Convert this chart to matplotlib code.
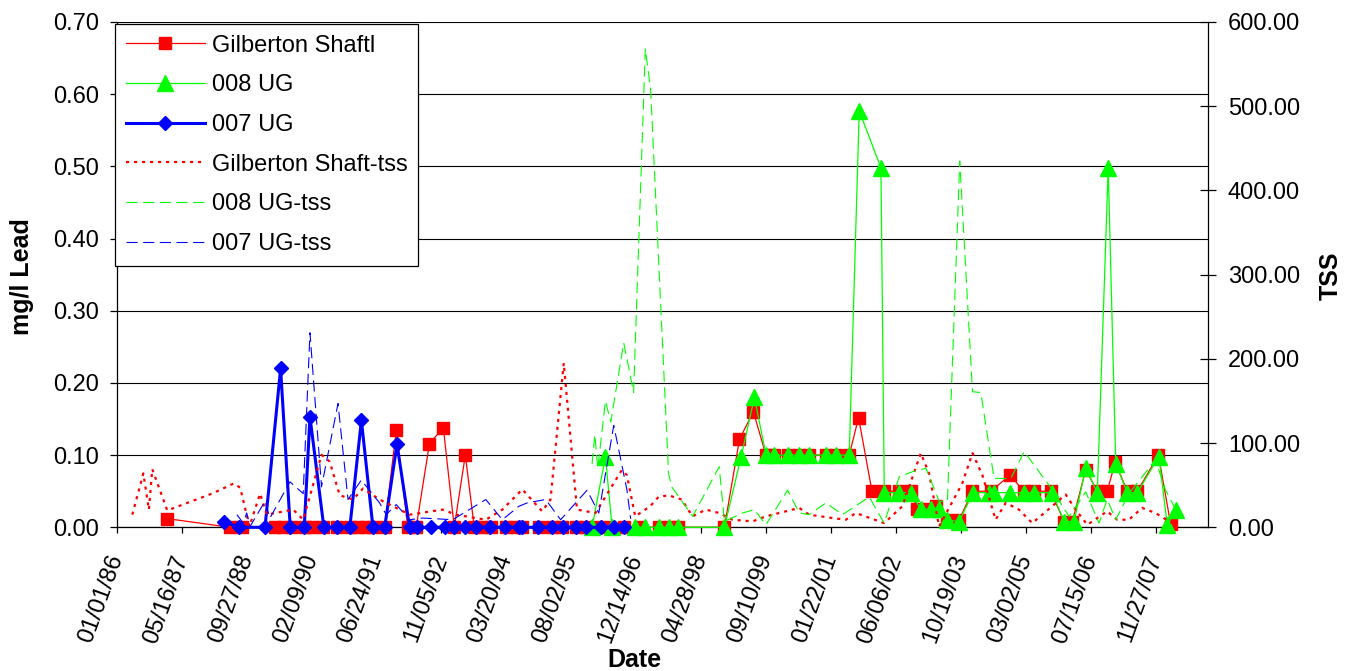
import matplotlib
matplotlib.use('Agg')
import matplotlib.pyplot as plt
import pandas as pd
from matplotlib.ticker import FuncFormatter

plt.rcParams['font.family'] = ['Liberation Sans', 'DejaVu Sans']

# ---------------- data ----------------
xtick_labels = ['01/01/86', '05/16/87', '09/27/88', '02/09/90', '06/24/91', '11/05/92',
                '03/20/94', '08/02/95', '12/14/96', '04/28/98', '09/10/99', '01/22/01',
                '06/06/02', '10/19/03', '03/02/05', '07/15/06', '11/27/07']
pb_ticks = [0.0, 0.1, 0.2, 0.3, 0.4, 0.5, 0.6, 0.7]
tss_ticks = [0, 100, 200, 300, 400, 500, 600]

gilb_dates = ['1987-01-25', '1988-05-24', '1988-08-22', '1989-05-04', '1989-07-07', '1989-09-10',
              '1989-12-21', '1990-02-10', '1990-05-10', '1990-08-21', '1990-12-01', '1991-02-02',
              '1991-04-08', '1991-05-28', '1991-08-26', '1991-11-24', '1992-02-20', '1992-04-25',
              '1992-08-05', '1992-11-20', '1993-02-12', '1993-05-08', '1993-07-16', '1993-09-18',
              '1993-11-21', '1994-03-16', '1994-06-01', '1994-07-22', '1994-11-27', '1995-03-09',
              '1995-05-24', '1995-09-04', '1995-11-20', '1996-02-05', '1996-05-03', '1996-09-09',
              '1997-01-15', '1997-06-04', '1997-09-02', '1997-11-04', '1998-10-24', '1999-02-17',
              '1999-06-04', '1999-09-09', '1999-11-12', '2000-02-23', '2000-05-23', '2000-08-07',
              '2000-12-14', '2001-02-28', '2001-06-11', '2001-08-22', '2001-12-03', '2002-03-08',
              '2002-07-01', '2002-09-29', '2002-11-18', '2003-01-23', '2003-04-09', '2003-07-07',
              '2003-10-05', '2004-01-16', '2004-06-05', '2004-10-30', '2005-02-17', '2005-05-04',
              '2005-09-09', '2005-12-21', '2006-02-23', '2006-06-06', '2006-09-03', '2006-11-18',
              '2007-01-19', '2007-04-22', '2007-07-08', '2007-12-18', '2008-03-20']
gilb_pb = [0.012, 0.0, 0.0, 0.0, 0.0, 0.0,
           0.0, 0.0, 0.0, 0.0, 0.0, 0.0,
           0.0, 0.0, 0.0, 0.135, 0.0, 0.0,
           0.116, 0.138, 0.0, 0.100, 0.0, 0.0,
           0.0, 0.0, 0.0, 0.0, 0.0, 0.0,
           0.0, 0.0, 0.0, 0.0, 0.0, 0.0,
           0.0, 0.0, 0.0, 0.0, 0.0, 0.122,
           0.160, 0.10, 0.10, 0.10, 0.10, 0.10,
           0.10, 0.10, 0.10, 0.152, 0.05, 0.05,
           0.05, 0.05, 0.026, 0.025, 0.03, 0.01,
           0.01, 0.05, 0.05, 0.072, 0.05, 0.05,
           0.05, 0.008, 0.008, 0.08, 0.05, 0.05,
           0.09, 0.05, 0.05, 0.10, 0.005]

ug008_dates = ['1996-01-09', '1996-04-21', '1996-06-11', '1996-12-07', '1997-02-22', '1997-06-04',
               '1997-08-20', '1997-11-04', '1998-10-24', '1999-03-02', '1999-06-12', '1999-09-09',
               '1999-11-12', '2000-02-23', '2000-05-23', '2000-08-07', '2000-12-14', '2001-02-28',
               '2001-06-11', '2001-08-27', '2002-02-10', '2002-03-08', '2002-07-01', '2002-09-29',
               '2002-12-14', '2003-03-02', '2003-05-05', '2003-07-07', '2003-10-05', '2004-01-21',
               '2004-05-23', '2004-06-30', '2004-11-03', '2005-02-17', '2005-05-04', '2005-09-21',
               '2005-12-21', '2006-03-08', '2006-06-06', '2006-09-03', '2006-11-26', '2007-01-23',
               '2007-04-22', '2007-07-08', '2007-12-21', '2008-02-24', '2008-04-28']
ug008_pb = [0.0, 0.098, 0.0, 0.0, 0.0, 0.0,
            0.0, 0.0, 0.0, 0.098, 0.18, 0.10,
            0.10, 0.10, 0.10, 0.10, 0.10, 0.10,
            0.10, 0.577, 0.498, 0.048, 0.048, 0.048,
            0.025, 0.025, 0.025, 0.010, 0.008, 0.048,
            0.048, 0.048, 0.048, 0.048, 0.048, 0.048,
            0.008, 0.008, 0.082, 0.048, 0.498, 0.088,
            0.048, 0.048, 0.098, 0.003, 0.024]

ug007_dates = ['1988-04-03', '1988-08-03', '1989-02-16', '1989-06-16', '1989-08-29', '1989-12-15',
               '1990-01-28', '1990-05-15', '1990-08-28', '1990-12-01', '1991-02-28', '1991-05-28',
               '1991-08-26', '1991-11-29', '1992-03-05', '1992-04-30', '1992-08-18', '1992-11-29',
               '1993-02-12', '1993-05-08', '1993-07-27', '1993-11-14', '1994-03-11', '1994-06-27',
               '1994-07-22', '1994-11-22', '1995-03-09', '1995-06-01', '1995-09-04', '1995-11-25',
               '1996-03-14', '1996-06-26', '1996-09-09']
ug007_pb = [0.008, 0.0, 0.0, 0.22, 0.0, 0.0,
            0.153, 0.0, 0.0, 0.0, 0.148, 0.0,
            0.0, 0.115, 0.0, 0.0, 0.0, 0.0,
            0.0, 0.0, 0.0, 0.0, 0.0, 0.0,
            0.0, 0.0, 0.0, 0.0, 0.0, 0.0,
            0.0, 0.0, 0.0]

gilb_tss_dates = ['1986-05-01', '1986-07-25', '1986-09-06', '1986-10-02', '1987-01-25', '1988-01-05',
                  '1988-06-19', '1988-08-09', '1988-10-19', '1989-01-09', '1989-03-01', '1989-09-21',
                  '1989-12-07', '1990-04-27', '1990-06-29', '1990-09-14', '1990-12-25', '1991-03-12',
                  '1991-07-18', '1991-10-28', '1992-03-05', '1992-11-15', '1993-02-25', '1993-10-13',
                  '1994-02-17', '1994-07-21', '1994-12-21', '1995-02-23', '1995-06-05', '1995-09-15',
                  '1996-02-04', '1996-08-25', '1996-10-03', '1996-12-06', '1997-04-01', '1997-06-03',
                  '1997-08-19', '1997-11-29', '1998-02-20', '1998-06-03', '1998-09-14', '1998-12-25',
                  '1999-05-29', '1999-09-08', '2000-05-22', '2000-08-06', '2001-02-02', '2001-05-16',
                  '2001-08-01', '2002-03-07', '2002-07-25', '2002-12-14', '2003-02-16', '2003-05-04',
                  '2003-10-29', '2004-01-16', '2004-04-01', '2004-07-12', '2004-09-28', '2005-01-08',
                  '2005-04-20', '2005-09-21', '2006-01-02', '2006-03-20', '2006-06-18', '2006-11-18',
                  '2007-02-03', '2007-05-04', '2007-08-14', '2007-11-25', '2008-04-01']
gilb_tss = [15, 64, 21, 69, 20, 40,
            52, 47, 1, 40, 15, 21,
            9, 86, 78, 38, 33, 46,
            33, 25, 15, 21, 15, 9,
            21, 45, 19, 33, 195, 21,
            17, 68, 62, 13, 25, 36,
            38, 33, 13, 21, 17, 9,
            7, 13, 23, 15, 11, 9,
            17, 5, 25, 88, 64, 1,
            52, 88, 62, 9, 29, 21,
            5, 25, 39, 21, 3, 19,
            9, 9, 23, 17, 5]

ug008_tss_dates = ['1996-01-09', '1996-01-30', '1996-02-22', '1996-04-21', '1996-06-01', '1996-09-09',
                   '1996-11-24', '1997-02-22', '1997-04-04', '1997-08-20', '1997-09-14', '1998-02-21',
                   '1998-09-14', '1998-10-24', '1999-03-14', '1999-06-12', '1999-09-08', '2000-02-23',
                   '2000-05-22', '2000-08-06', '2000-12-14', '2001-04-20', '2001-11-12', '2002-03-07',
                   '2002-07-01', '2002-10-11', '2003-01-23', '2003-05-04', '2003-07-07', '2003-10-10',
                   '2004-01-16', '2004-03-20', '2004-06-30', '2004-11-06', '2005-02-17', '2005-08-27',
                   '2006-01-29', '2006-06-06', '2006-09-16', '2006-11-18', '2007-01-23', '2007-05-04',
                   '2007-11-25', '2008-02-11', '2008-04-15']
ug008_tss = [75, 110, 70, 150, 125, 219,
             160, 568, 520, 64, 48, 13,
             72, 7, 17, 21, 3, 44,
             17, 15, 29, 15, 36, 5,
             60, 66, 70, 31, 31, 435,
             161, 160, 58, 58, 90, 50,
             13, 42, 5, 33, 9, 40,
             80, 44, 25]

ug007_tss_dates = ['1988-07-14', '1988-09-02', '1988-09-28', '1988-10-24', '1989-02-16', '1989-03-26',
                   '1989-08-27', '1989-12-07', '1990-01-28', '1990-04-27', '1990-09-01', '1990-11-17',
                   '1991-02-27', '1991-07-18', '1991-09-07', '1991-11-23', '1992-03-05', '1992-06-15',
                   '1993-01-31', '1993-10-13', '1994-02-17', '1994-06-25', '1994-08-28', '1995-01-17',
                   '1995-05-12', '1995-12-01', '1996-03-01', '1996-06-24', '1996-10-04', '1996-11-01']
ug007_tss = [15, 5, 17, 1, 31, 11,
             54, 40, 231, 48, 147, 33,
             56, 29, 15, 27, 9, 11,
             9, 33, 9, 25, 29, 33,
             9, 44, 17, 121, 44, 10]

# ---------------- figure ----------------
W, H = 1354, 671
fig = plt.figure(figsize=(W / 100, H / 100), dpi=100)
fig.patch.set_facecolor('white')
ax = fig.add_axes([116.7 / W, 1 - 527.3 / H, (1207.7 - 116.7) / W, (527.3 - 22.0) / H])
ax2 = ax.twinx()

RED, GREEN, BLUE = '#FF0000', '#00FF00', '#0000FF'
FS = 17

l1, = ax.plot(pd.to_datetime(gilb_dates), gilb_pb, color=RED, lw=0.9, marker='s', ms=9,
              mfc=RED, mec=RED, clip_on=False, zorder=3, label='Gilberton Shaftl')
l2, = ax.plot(pd.to_datetime(ug008_dates), ug008_pb, color=GREEN, lw=0.9, marker='^', ms=11,
              mfc=GREEN, mec=GREEN, clip_on=False, zorder=4, label='008 UG')
l3, = ax.plot(pd.to_datetime(ug007_dates), ug007_pb, color=BLUE, lw=2.2, marker='D', ms=7.5,
              mfc=BLUE, mec=BLUE, clip_on=False, zorder=5, label='007 UG')

l4, = ax2.plot(pd.to_datetime(gilb_tss_dates), gilb_tss, color=RED, lw=1.6,
               linestyle=(0, (1.4, 2.2)), label='Gilberton Shaft-tss')
l5, = ax2.plot(pd.to_datetime(ug008_tss_dates), ug008_tss, color=GREEN, lw=0.8,
               linestyle=(0, (10, 5)), label='008 UG-tss')
l6, = ax2.plot(pd.to_datetime(ug007_tss_dates), ug007_tss, color=BLUE, lw=0.8,
               linestyle=(0, (10, 5)), label='007 UG-tss')

# axes ranges
ax.set_xlim(pd.Timestamp('1986-01-01'), pd.Timestamp('2008-12-31'))
ax.set_ylim(pb_ticks[0], pb_ticks[-1])
ax2.set_ylim(tss_ticks[0], tss_ticks[-1])

# ticks
xt = pd.to_datetime(xtick_labels, format='%m/%d/%y')
ax.set_xticks(xt)
ax.set_xticklabels(xtick_labels, rotation=70, ha='right', va='center',
                   rotation_mode='anchor', fontsize=FS)
ax.set_yticks(pb_ticks)
ax.yaxis.set_major_formatter(FuncFormatter(lambda v, p: f'{v:.2f}'))
ax2.set_yticks(tss_ticks)
ax2.yaxis.set_major_formatter(FuncFormatter(lambda v, p: f'{v:.2f}'))

ax.tick_params(axis='y', direction='out', length=5, width=0.9, labelsize=FS, pad=8)
ax.tick_params(axis='x', direction='out', length=4.5, width=0.9, pad=16)
ax2.tick_params(axis='y', direction='inout', length=11, width=0.9, labelsize=FS, pad=9)

# grid
ax.grid(axis='y', color='black', lw=0.8)
ax.grid(axis='x', visible=False)
ax.set_axisbelow(True)

# spines
for s in ['top', 'right']:
    ax.spines[s].set_visible(False)
for s in ['top', 'left', 'bottom']:
    ax2.spines[s].set_visible(False)
for sp in [ax.spines['left'], ax.spines['bottom'], ax2.spines['right']]:
    sp.set_color('black')
    sp.set_linewidth(0.9)

# axis titles
fig.text(22 / W, 1 - 277 / H, 'mg/l Lead', rotation=90, ha='center', va='center',
         fontsize=18, fontweight='bold')
fig.text(1331 / W, 1 - 276 / H, 'TSS', rotation=90, ha='center', va='center',
         fontsize=18, fontweight='bold')
fig.text(634 / W, 1 - 660 / H, 'Date', ha='center', va='center',
         fontsize=18, fontweight='bold')

# legend
handles = [l1, l2, l3, l4, l5, l6]
leg = fig.legend(handles, [h.get_label() for h in handles],
                 loc='upper left', bbox_to_anchor=(115 / W, 1 - 24 / H),
                 bbox_transform=fig.transFigure, frameon=True, fancybox=False,
                 edgecolor='black', framealpha=1, fontsize=FS, handlelength=3.35,
                 handletextpad=0.3, labelspacing=0.75, borderpad=0.45, borderaxespad=0,
                 numpoints=1)
leg.get_frame().set_linewidth(0.9)

fig.savefig('out.png', dpi=100, facecolor='white')
